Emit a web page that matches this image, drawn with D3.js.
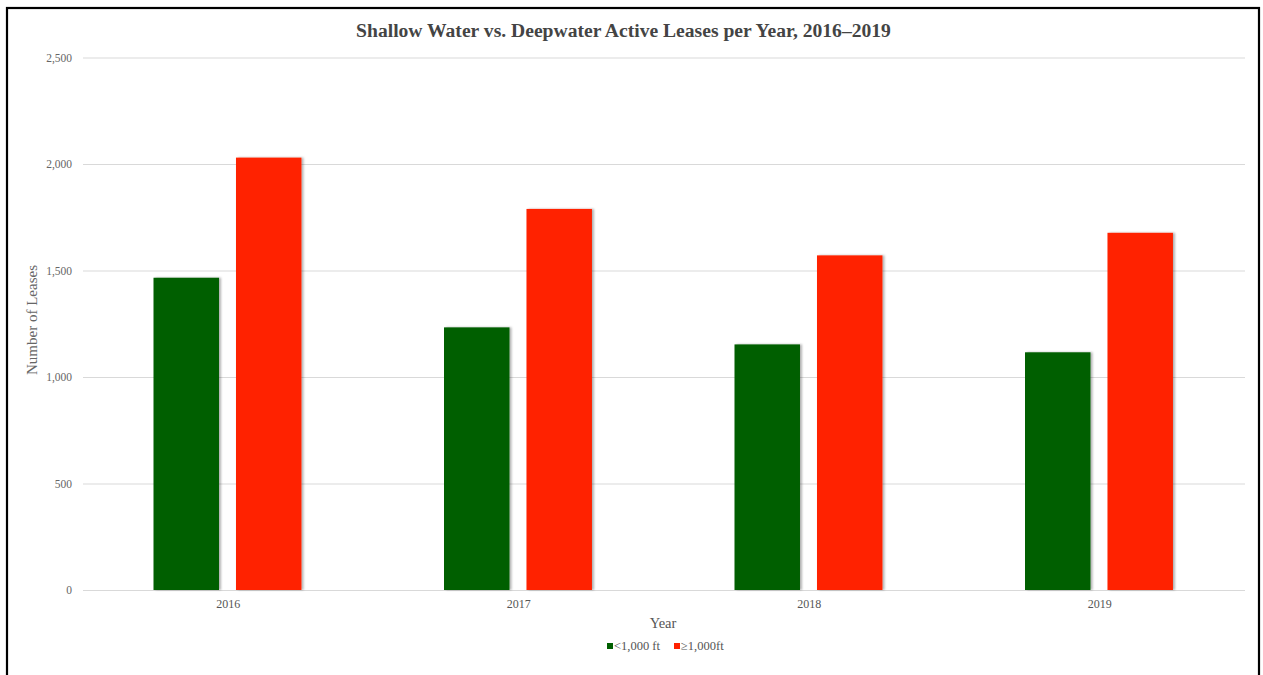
<!DOCTYPE html>
<html>
<head>
<meta charset="utf-8">
<script src="https://cdn.jsdelivr.net/npm/d3@7"></script>
<style>
  html, body { margin: 0; padding: 0; background: #fff; }
  svg { display: block; }
  text { font-family: "Liberation Serif", "Times New Roman", serif; }
</style>
</head>
<body>
<svg id="chart" width="1263" height="675"></svg>
<script>
const years = ["2016", "2017", "2018", "2019"];
const seriesNames = ["<1,000 ft", "≥1,000ft"];
const shallowValues = [1466, 1233, 1153, 1116];
const deepValues = [2030, 1789, 1571, 1677];
const yTicks = [0, 500, 1000, 1500, 2000, 2500];
const colors = ["#005f00", "#ff2200"];

const svg = d3.select("#chart");
const x0 = 83, x1 = 1245, yTop = 57.5, yBot = 590;

// frame
svg.append("rect").attr("x", 7).attr("y", 8).attr("width", 1252).attr("height", 680)
  .attr("fill", "none").attr("stroke", "#000").attr("stroke-width", 2.2);

const defs = svg.append("defs");
const f = defs.append("filter").attr("id", "shadow").attr("x", "-10%").attr("y", "-5%").attr("width", "130%").attr("height", "110%");
f.append("feDropShadow").attr("dx", 2).attr("dy", 0).attr("stdDeviation", 1.2).attr("flood-color", "#000").attr("flood-opacity", 0.3);

const x = d3.scaleBand().domain(years).range([x0, x1]);
const bw = x.bandwidth();
const xs = d3.scaleBand().domain([0, 1]).range([bw * 0.2427, bw * 0.752]).paddingInner(0.206);
const y = d3.scaleLinear().domain([0, 2500]).range([yBot, yTop]);

// grid + y axis
const yAxis = d3.axisLeft(y).tickValues(yTicks).tickSize(-(x1 - x0)).tickPadding(11)
  .tickFormat(d3.format(","));
const gy = svg.append("g").attr("transform", `translate(${x0},0)`).call(yAxis);
gy.select(".domain").remove();
gy.selectAll(".tick line").attr("stroke", "#d9d9d9").attr("stroke-width", 1.2);
gy.selectAll(".tick text").attr("fill", "#666").attr("font-size", 11.5)
  .style("font-family", "'Liberation Serif', serif");

// bars
const data = years.map((yr, i) => ({ year: yr, vals: [shallowValues[i], deepValues[i]] }));
const g = svg.append("g").selectAll("g").data(data).join("g")
  .attr("transform", d => `translate(${x(d.year)},0)`);
g.selectAll("rect").data(d => d.vals.map((v, k) => ({ v, k }))).join("rect")
  .attr("x", d => xs(d.k)).attr("width", xs.bandwidth())
  .attr("y", d => y(d.v)).attr("height", d => yBot - y(d.v))
  .attr("fill", d => colors[d.k]).attr("filter", "url(#shadow)");

// x axis labels
const xAxis = d3.axisBottom(x).tickSize(0).tickPadding(9);
const gx = svg.append("g").attr("transform", `translate(0,${yBot})`).call(xAxis);
gx.select(".domain").remove();
gx.selectAll(".tick text").attr("fill", "#555").attr("font-size", 12)
  .style("font-family", "'Liberation Serif', serif");

// title
svg.append("text").attr("x", 623.5).attr("y", 37).attr("text-anchor", "middle")
  .attr("font-size", 19.6).attr("font-weight", "bold").attr("fill", "#444")
  .text("Shallow Water vs. Deepwater Active Leases per Year, 2016–2019");

// axis titles
svg.append("text").attr("x", 663).attr("y", 628).attr("text-anchor", "middle")
  .attr("font-size", 14.5).attr("fill", "#555").text("Year");
svg.append("text").attr("transform", "translate(37,320) rotate(-90)").attr("text-anchor", "middle")
  .attr("font-size", 15).attr("fill", "#666").text("Number of Leases");

// legend
const lg = svg.append("g").attr("transform", "translate(607,646)");
const items = lg.selectAll("g").data(seriesNames).join("g")
  .attr("transform", (d, i) => `translate(${i === 0 ? 0 : 67},0)`);
items.append("rect").attr("x", 0).attr("y", -3).attr("width", 6).attr("height", 6)
  .attr("fill", (d, i) => colors[i]);
items.append("text").attr("x", 7).attr("y", 4).attr("font-size", 12.5).attr("fill", "#555")
  .text(d => d);
</script>
</body>
</html>
